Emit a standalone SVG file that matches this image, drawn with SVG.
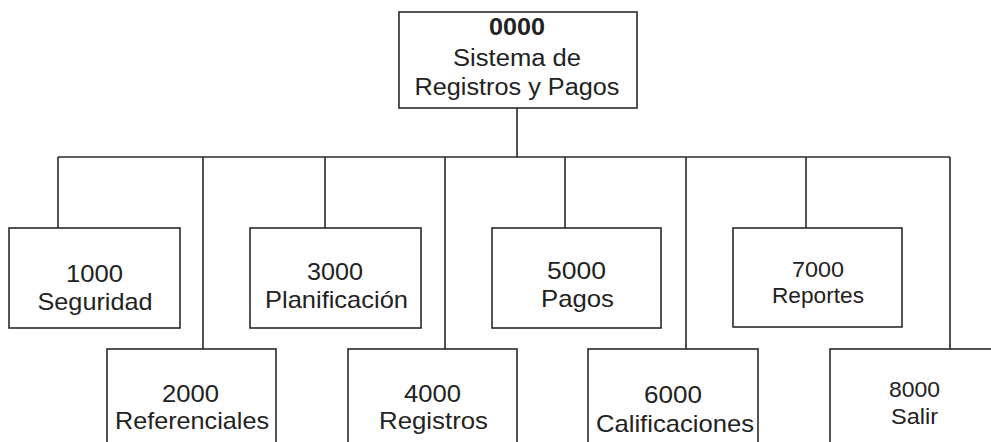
<svg xmlns="http://www.w3.org/2000/svg" width="991" height="442" viewBox="0 0 991 442">
<style>
.box{fill:#fff;stroke:#2a2a2a;stroke-width:1.6}
.ln{fill:none;stroke:#2a2a2a;stroke-width:1.6}
text{font-family:"Liberation Sans",Arial,sans-serif;fill:#222;text-anchor:middle}
.t{font-size:24px}
.s{font-size:22px}
.r{font-size:23px}
.b{font-weight:bold}
</style>
<rect width="991" height="442" fill="#fff"/>
<g id="connectors">
<path class="ln" d="M517,108V157M58,157H950M58,157V228M203,157V349M325,157V228M445,157V349M565,157V228M686,157V349M806,157V228M950,157V349"/>
</g>
<g id="n0000">
<rect class="box" x="399" y="12" width="238" height="96"/>
<text class="r b" x="517" y="35" textLength="56" lengthAdjust="spacingAndGlyphs">0000</text>
<text class="r" x="517" y="66" textLength="128" lengthAdjust="spacingAndGlyphs">Sistema de</text>
<text class="r" x="517" y="95" textLength="205" lengthAdjust="spacingAndGlyphs">Registros y Pagos</text>
</g>
<g id="n1000">
<rect class="box" x="9" y="228" width="171" height="100"/>
<text class="t" x="94.5" y="282" textLength="57" lengthAdjust="spacingAndGlyphs">1000</text>
<text class="t" x="95" y="310" textLength="115" lengthAdjust="spacingAndGlyphs">Seguridad</text>
</g>
<g id="n2000">
<rect class="box" x="107" y="349" width="169" height="110"/>
<text class="t" x="190.5" y="402" textLength="57" lengthAdjust="spacingAndGlyphs">2000</text>
<text class="t" x="192" y="429" textLength="154" lengthAdjust="spacingAndGlyphs">Referenciales</text>
</g>
<g id="n3000">
<rect class="box" x="250" y="228" width="171" height="100"/>
<text class="t" x="335" y="280" textLength="56" lengthAdjust="spacingAndGlyphs">3000</text>
<text class="t" x="336.5" y="308" textLength="143" lengthAdjust="spacingAndGlyphs">Planificación</text>
</g>
<g id="n4000">
<rect class="box" x="348" y="349" width="169" height="110"/>
<text class="t" x="432.5" y="402" textLength="57" lengthAdjust="spacingAndGlyphs">4000</text>
<text class="t" x="433.5" y="429" textLength="109" lengthAdjust="spacingAndGlyphs">Registros</text>
</g>
<g id="n5000">
<rect class="box" x="492" y="228" width="169" height="100"/>
<text class="t" x="576.5" y="279" textLength="59" lengthAdjust="spacingAndGlyphs">5000</text>
<text class="t" x="577.5" y="307" textLength="73" lengthAdjust="spacingAndGlyphs">Pagos</text>
</g>
<g id="n6000">
<rect class="box" x="588" y="349" width="170" height="110"/>
<text class="t" x="673" y="403" textLength="58" lengthAdjust="spacingAndGlyphs">6000</text>
<text class="t" x="675" y="432" textLength="158" lengthAdjust="spacingAndGlyphs">Calificaciones</text>
</g>
<g id="n7000">
<rect class="box" x="733" y="228" width="169" height="99"/>
<text class="s" x="818" y="277" textLength="52" lengthAdjust="spacingAndGlyphs">7000</text>
<text class="s" x="818" y="303" textLength="92" lengthAdjust="spacingAndGlyphs">Reportes</text>
</g>
<g id="n8000">
<rect class="box" x="830" y="349" width="200" height="110"/>
<text class="s" x="914.5" y="397" textLength="51" lengthAdjust="spacingAndGlyphs">8000</text>
<text class="s" x="914.5" y="424" textLength="47" lengthAdjust="spacingAndGlyphs">Salir</text>
</g>
</svg>
